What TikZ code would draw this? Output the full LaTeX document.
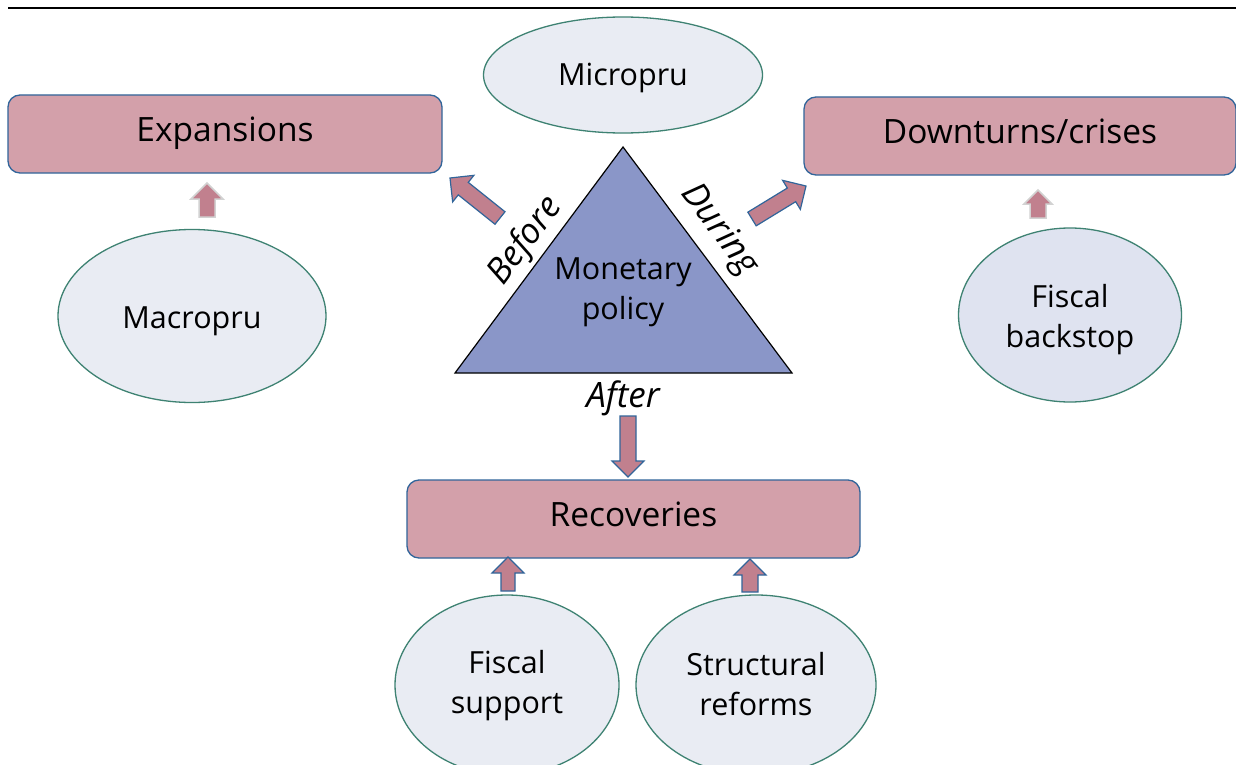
\documentclass[tikz,border=0pt]{standalone}
\usepackage{fontspec}
\setmainfont{Open Sans}
\usetikzlibrary{calc,shapes.geometric}
\definecolor{boxfill}{HTML}{D3A0AA}
\definecolor{boxline}{HTML}{31659A}
\definecolor{arrfill}{HTML}{C1808E}
\definecolor{ellfill}{HTML}{E9ECF3}
\definecolor{ellfillb}{HTML}{DFE3F0}
\definecolor{ellline}{HTML}{3E8272}
\definecolor{trifill}{HTML}{8A96C8}
\definecolor{paleline}{HTML}{D2D2D2}
\newcommand{\blockarrow}[5][]{%
  \coordinate (ba-h) at ($(#3)!#5!(#2)$);
  \draw[#1] ($(#2)!#4!90:(#3)$) -- ($(ba-h)!#4!-90:(#2)$) -- ($(ba-h)!#5!-90:(#2)$) -- (#3)
    -- ($(ba-h)!#5!90:(#2)$) -- ($(ba-h)!#4!90:(#2)$) -- ($(#2)!#4!-90:(#3)$) -- cycle;}
\tikzset{
  phase/.style={draw=boxline, line width=1.3pt, fill=boxfill, rounded corners=12pt, inner sep=0pt,
    text height=23pt, text depth=8pt, font=\fontsize{33.5}{38}\selectfont},
  tool/.style={ellipse, draw=ellline, line width=1.3pt, fill=ellfill, inner sep=0pt},
  tooltext/.style={align=center, font=\fontsize{30.5}{40}\selectfont},
  barrow/.style={draw=boxline, line width=1.2pt, fill=arrfill, line join=miter},
  parrow/.style={draw=paleline, line width=1.5pt, fill=arrfill, line join=miter},
  side/.style={font=\fontsize{35}{40}\selectfont\itshape}
}
\begin{document}
\begin{tikzpicture}[x=1pt,y=-1pt]
\clip (0,0) rectangle (1236,765);
\fill[white] (0,0) rectangle (1236,765);
\draw[line width=2.2pt] (8,8) -- (1240,8);

% phase boxes
\node[phase, minimum width=434pt, minimum height=78pt] (exp) at (225,134) {Expansions};
\node[phase, minimum width=432pt, minimum height=78pt] (down) at (1020,136) {Downturns/crises};
\node[phase, minimum width=453pt, minimum height=78pt] (rec) at (633.5,519) {Recoveries};

% tools
\node[tool, minimum width=279pt, minimum height=116pt,
  label={[tooltext, yshift=-3pt]center:Micropru}] (micro) at (623,75) {};
\node[tool, minimum width=268pt, minimum height=173pt,
  label={[tooltext, yshift=-5pt]center:Macropru}] (macro) at (192,316) {};
\node[tool, fill=ellfillb, minimum width=223pt, minimum height=174pt,
  label={[tooltext, yshift=-5pt]center:{Fiscal\\backstop}}] (back) at (1070,315) {};
\node[tool, minimum width=224pt, minimum height=180pt,
  label={[tooltext, yshift=-1pt]center:{Fiscal\\support}}] (supp) at (507,685) {};
\node[tool, minimum width=240pt, minimum height=180pt,
  label={[tooltext, yshift=1pt]center:{Structural\\reforms}}] (struct) at (756,685) {};

% triangle
\coordinate (ta) at (623,147);
\coordinate (tl) at (455,373);
\coordinate (tr) at (792,373);
\draw[fill=trifill, line width=1.2pt, line join=miter] (ta) -- (tr) -- (tl) -- cycle;
\node[tooltext] (mp) at (623,292) {Monetary\\policy};
\node[side, rotate=53.4] (before) at (526,241) {Before};
\node[side, rotate=-53.4] (during) at (719,230) {During};
\node[side] (after) at (623,398) {After};

% block arrows
\coordinate (b1) at (500,218); \coordinate (b2) at (450,178);
\coordinate (d1) at (752,219); \coordinate (d2) at (806,186);
\coordinate (a1) at (628,416); \coordinate (a2) at (628,477);
\coordinate (s1) at (508,591); \coordinate (s2) at (508,557);
\coordinate (r1) at (750,592); \coordinate (r2) at (750,559);
\coordinate (e1) at (207,217); \coordinate (e2) at (207,183);
\coordinate (f1) at (1038,218); \coordinate (f2) at (1038,190);
\blockarrow[barrow]{b1}{b2}{8pt}{17pt}
\blockarrow[barrow]{d1}{d2}{8pt}{17pt}
\blockarrow[barrow]{a1}{a2}{8pt}{16pt}
\blockarrow[barrow]{s1}{s2}{7pt}{16pt}
\blockarrow[barrow]{r1}{r2}{8pt}{16pt}
\blockarrow[parrow]{e1}{e2}{8pt}{16pt}
\blockarrow[parrow]{f1}{f2}{8pt}{14pt}
\end{tikzpicture}
\end{document}
